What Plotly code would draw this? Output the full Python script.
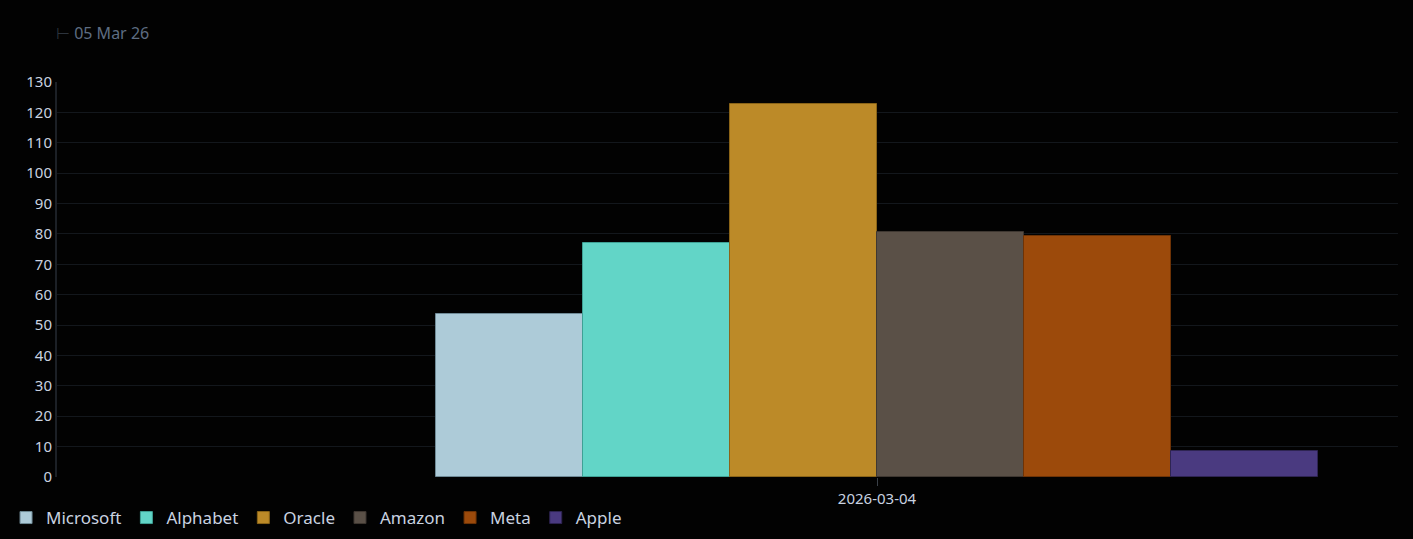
import plotly.graph_objects as go

categories = ["2026-03-04"]
companies = ["Microsoft", "Alphabet", "Oracle", "Amazon", "Meta", "Apple"]
values = [53.6, 77.0, 122.8, 80.6, 79.4, 8.6]
colors = ["#adcbd8", "#62d5c7", "#bc8a28", "#5a5047", "#9c4a0b", "#4a3a80"]
line_colors = ["#6f8a96", "#3fa195", "#8a6418", "#3e3731", "#6e3306", "#2e2452"]
y_ticks = list(range(0, 131, 10))

fig = go.Figure()
for name, v, c, lc in zip(companies, values, colors, line_colors):
    fig.add_trace(go.Bar(
        x=categories, y=[v], name=name,
        marker=dict(color=c, line=dict(color=lc, width=1)),
    ))

W, H = 1413, 539
ml, mr, mt, mb = 57, 15, 82, 62
plot_w = W - ml - mr
plot_h = H - mt - mb
group_px = 882.0
tick_px = 877 - ml
left_units = tick_px / group_px
right_units = (plot_w - tick_px) / group_px

fig.update_layout(
    width=W, height=H,
    margin=dict(l=ml, r=mr, t=mt, b=mb, autoexpand=False),
    paper_bgcolor="#020202", plot_bgcolor="#020202",
    barmode="group", bargap=0, bargroupgap=0,
    font=dict(family="Noto Sans", color="#c9d2e0", size=15),
    showlegend=True,
    legend=dict(orientation="h", x=-0.038, xanchor="left",
                y=-(500 - 477) / plot_h, yanchor="top",
                font=dict(size=17, color="#c9d2e0"), itemwidth=30,
                bgcolor="rgba(0,0,0,0)"),
    xaxis=dict(type="category", range=[-left_units, right_units], automargin=False,
               showgrid=False, zeroline=False, showline=False,
               ticks="outside", ticklen=8, tickcolor="#3a4048", tickwidth=1,
               tickfont=dict(size=15, color="#c9d2e0")),
    yaxis=dict(range=[0, 130], tickvals=y_ticks, showgrid=True, automargin=False,
               gridcolor="#13171c", gridwidth=1, zeroline=False,
               showline=True, linecolor="#1c2026", linewidth=2,
               ticks="", tickfont=dict(size=15, color="#c9d2e0")),
    annotations=[dict(
        xref="paper", yref="paper", x=-0.002, y=1.0 + (82 - 33) / plot_h,
        xanchor="left", yanchor="middle", showarrow=False,
        text="<span style='color:#2c333c'>⊢</span> 05 Mar 26",
        font=dict(size=16, color="#5e6d82"),
    )],
)

fig.write_html("out.html", config={"displayModeBar": False},
               post_script="document.body.style.margin='0';document.body.style.background='#020202';")
